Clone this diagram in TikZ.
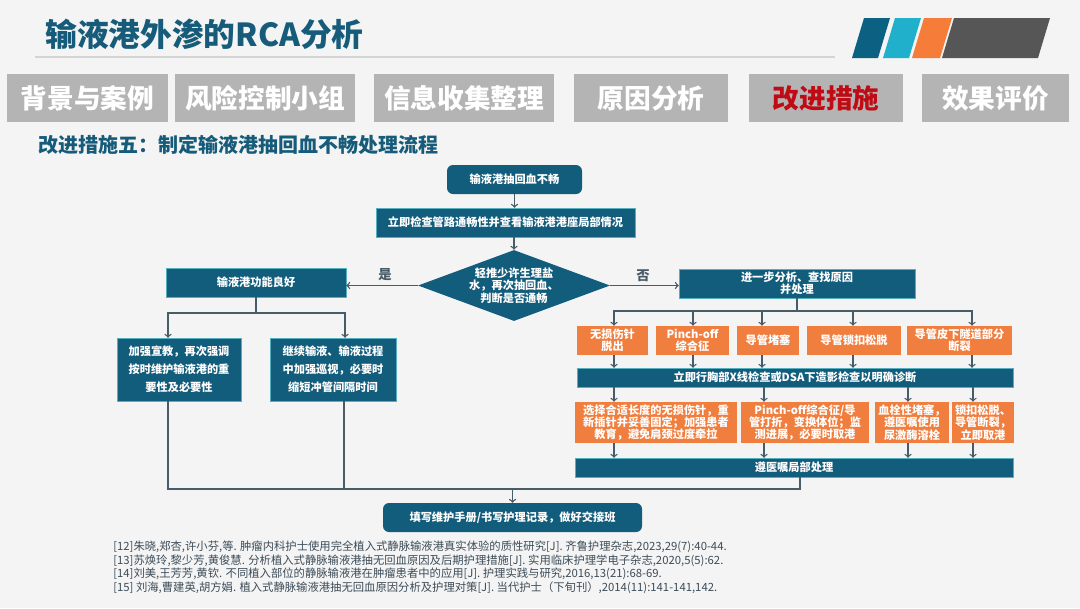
\documentclass[tikz,border=0pt]{standalone}
\usepackage{fontspec}
\setmainfont{Noto Sans CJK SC}
\usepackage{tikz}
\usetikzlibrary{shapes,arrows,positioning,calc}

\definecolor{bgpage}{RGB}{244,244,244}
\definecolor{flowblue}{RGB}{18,92,124}
\definecolor{headblue}{RGB}{22,92,122}
\definecolor{causeorange}{RGB}{240,126,62}
\definecolor{tabgray}{RGB}{180,180,180}
\definecolor{tabred}{RGB}{192,10,20}
\definecolor{wiregray}{RGB}{72,92,104}
\definecolor{refgray}{RGB}{60,76,88}
\definecolor{stripblue}{RGB}{12,96,130}
\definecolor{stripcyan}{RGB}{32,176,204}
\definecolor{striporange}{RGB}{246,124,58}
\definecolor{stripgray}{RGB}{86,86,86}
\definecolor{rulegray}{RGB}{212,212,212}

\newdimen\pxu \pxu=0.75pt
\newcommand{\flowfont}{\fontsize{8.4pt}{9.3pt}\selectfont\bfseries}
\newcommand{\loosefont}{\fontsize{8.4pt}{13.5pt}\selectfont\bfseries}
\newcommand{\tabfont}{\fontsize{20pt}{24pt}\selectfont\bfseries}
\newcommand{\reffont}{\fontsize{8.5pt}{10.1pt}\selectfont}

\tikzstyle{flow} = [rectangle, fill=flowblue, draw=flowblue!70!cyan!70, line width=0.3pt, text=white, align=center, inner sep=0pt, font=\flowfont]
\tikzstyle{startbox} = [flow, rounded corners=6\pxu, draw=none]
\tikzstyle{cause} = [rectangle, fill=causeorange, text=white, align=center, inner sep=0pt, font=\flowfont]
\tikzstyle{tab} = [rectangle, fill=tabgray, text=white, inner sep=0pt, minimum height=48\pxu, font=\tabfont]
\tikzstyle{arr} = [draw, ->, >=to, color=wiregray, line width=1pt]
\tikzstyle{wire} = [draw, color=wiregray, line width=1pt]
\tikzstyle{yesno} = [text=wiregray, font=\fontsize{10pt}{12pt}\selectfont\bfseries]

\begin{document}
\begin{tikzpicture}[x=0.75pt, y=-0.75pt]
    \fill[bgpage] (0,0) rectangle (1080,608);
    \useasboundingbox (0,0) rectangle (1080,608);

    % header
    \node[anchor=west, inner sep=0pt, text=headblue, font=\fontsize{23.8pt}{28pt}\selectfont\bfseries] (title) at (45,34) {输液港外渗的RCA分析};
    \draw[rulegray, line width=0.8pt] (35,57) -- (835,57);
    \fill[stripblue] (852,58) -- (864,18) -- (890,18) -- (878,58) -- cycle;
    \fill[stripcyan] (883,58) -- (895,18) -- (921,18) -- (909,58) -- cycle;
    \fill[striporange] (912,58) -- (924,18) -- (952,18) -- (940,58) -- cycle;
    \fill[stripgray] (942,58) -- (954,18) -- (1050,18) -- (1038,58) -- cycle;

    \node[tab, minimum width=161\pxu] (t1) at (87.5,98) {背景与案例};
    \node[tab, minimum width=180\pxu] (t2) at (265,98) {风险控制小组};
    \node[tab, minimum width=180\pxu] (t3) at (464,98) {信息收集整理};
    \node[tab, minimum width=154\pxu] (t4) at (651,98) {原因分析};
    \node[tab, minimum width=154\pxu, text=tabred] (t5) at (826,98) {改进措施};
    \node[tab, minimum width=147\pxu] (t6) at (995.5,98) {效果评价};

    \node[anchor=west, inner sep=0pt, text=headblue, font=\fontsize{15pt}{18pt}\selectfont\bfseries] (sub) at (38,145) {改进措施五：制定输液港抽回血不畅处理流程};

    % main line
    \node[startbox, minimum width=135\pxu, minimum height=29\pxu] (start) at (514.5,179.5) {输液港抽回血不畅};
    \node[flow, minimum width=259\pxu, minimum height=29\pxu] (chk) at (505.5,222.5) {立即检查管路通畅性并查看输液港港座局部情况};
    \node[diamond, aspect=2.7, fill=flowblue, text=white, align=center, inner sep=0pt, font=\flowfont, minimum width=192\pxu, minimum height=71\pxu] (dia) at (514,285.5) {轻推少许生理盐\\水，再次抽回血、\\判断是否通畅};

    \draw [arr] (start) -- (start |- chk.north);
    \draw [arr] (dia.north |- chk.south) -- (dia.north);

    % yes side
    \node[flow, minimum width=180\pxu, minimum height=29\pxu] (good) at (256,282.5) {输液港功能良好};
    \draw [arr] (dia.west) -- (dia.west -| good.east);
    \node[yesno] (yes) at (385,275) {是};
    \node[flow, font=\loosefont, minimum width=124\pxu, minimum height=63\pxu] (lb1) at (179,369.5) {加强宣教，再次强调\\按时维护输液港的重\\要性及必要性};
    \node[flow, font=\loosefont, minimum width=126\pxu, minimum height=63\pxu] (lb2) at (333,369.5) {继续输液、输液过程\\中加强巡视，必要时\\缩短冲管间隔时间};
    \coordinate (ltop) at (168,313);
    \coordinate (rtop) at (345,313);
    \draw [wire] (good.south) -- (good.south |- ltop);
    \draw [arr] (good.south |- ltop) -- (ltop) -- (ltop |- lb1.north);
    \draw [arr] (good.south |- ltop) -- (rtop) -- (rtop |- lb2.north);

    % no side
    \node[flow, minimum width=236\pxu, minimum height=29\pxu] (further) at (797,283.5) {进一步分析、查找原因\\并处理};
    \draw [arr] (dia.east) -- (dia.east -| further.west);
    \node[yesno] (no) at (643,276) {否};

    \node[cause, minimum width=71\pxu, minimum height=29\pxu] (o1) at (612.5,340.5) {无损伤针\\脱出};
    \node[cause, minimum width=73\pxu, minimum height=29\pxu] (o2) at (692.5,340.5) {Pinch-off\\综合征};
    \node[cause, minimum width=62\pxu, minimum height=29\pxu] (o3) at (768,340.5) {导管堵塞};
    \node[cause, minimum width=94\pxu, minimum height=29\pxu] (o4) at (854,340.5) {导管锁扣松脱};
    \node[cause, minimum width=105\pxu, minimum height=29\pxu] (o5) at (959.5,340.5) {导管皮下隧道部分\\断裂};

    \node[flow, minimum width=436\pxu, minimum height=19\pxu] (bar1) at (795,377.5) {立即行胸部X线检查或DSA下造影检查以明确诊断};

    \node[cause, minimum width=162\pxu, minimum height=41\pxu] (p1) at (656,422.5) {选择合适长度的无损伤针，重\\新插针并妥善固定；加强患者\\教育，避免肩颈过度牵拉};
    \node[cause, minimum width=128\pxu, minimum height=41\pxu] (p2) at (805,422.5) {Pinch-off综合征/导\\管打折，变换体位；监\\测进展，必要时取港};
    \node[cause, minimum width=74\pxu, minimum height=41\pxu] (p3) at (912,422.5) {血栓性堵塞，\\遵医嘱使用\\尿激酶溶栓};
    \node[cause, minimum width=62\pxu, minimum height=41\pxu] (p4) at (983,422.5) {锁扣松脱、\\导管断裂，\\立即取港};

    \node[flow, minimum width=438\pxu, minimum height=19\pxu] (bar2) at (794,467.5) {遵医嘱局部处理};

    \coordinate (c1) at (614,311);
    \coordinate (c2) at (693,311);
    \coordinate (c3) at (762,311);
    \coordinate (c4) at (853,311);
    \coordinate (c5) at (972,311);
    \draw [wire] (further.south) -- (further.south |- c1);
    \draw [arr] (further.south |- c1) -- (c1) -- (c1 |- o1.north);
    \draw [arr] (c2) -- (c2 |- o2.north);
    \draw [arr] (c3) -- (c3 |- o3.north);
    \draw [arr] (c4) -- (c4 |- o4.north);
    \draw [arr] (further.south |- c1) -- (c5) -- (c5 |- o5.north);
    \draw [arr] (c1 |- o1.south) -- (c1 |- bar1.north);
    \draw [arr] (c2 |- o2.south) -- (c2 |- bar1.north);
    \draw [arr] (c3 |- o3.south) -- (c3 |- bar1.north);
    \draw [arr] (c4 |- o4.south) -- (c4 |- bar1.north);
    \draw [arr] (c5 |- o5.south) -- (c5 |- bar1.north);

    \coordinate (d1) at (614,395);
    \coordinate (d2) at (764,395);
    \coordinate (d3) at (908,395);
    \coordinate (d4) at (973,395);
    \draw [arr] (d1 |- bar1.south) -- (d1 |- p1.north);
    \draw [arr] (d2 |- bar1.south) -- (d2 |- p2.north);
    \draw [arr] (d3 |- bar1.south) -- (d3 |- p3.north);
    \draw [arr] (d4 |- bar1.south) -- (d4 |- p4.north);
    \draw [arr] (d1 |- p1.south) -- (d1 |- bar2.north);
    \draw [arr] (d2 |- p2.south) -- (d2 |- bar2.north);
    \draw [arr] (d3 |- p3.south) -- (d3 |- bar2.north);
    \draw [arr] (d4 |- p4.south) -- (d4 |- bar2.north);

    % merge
    \node[startbox, minimum width=259\pxu, minimum height=29\pxu] (final) at (512.5,517.5) {填写维护手册/书写护理记录，做好交接班};
    \coordinate (lbot) at (168,489);
    \coordinate (rbot) at (344,489);
    \coordinate (bbot) at (800,489);
    \draw [wire] (lb1.south -| lbot) -- (lbot) -- (bbot) -- (bbot |- bar2.south);
    \draw [wire] (lb2.south -| rbot) -- (rbot);
    \draw [arr] (final.north |- lbot) -- (final.north);

    \node[anchor=north west, align=left, inner sep=0pt, text=refgray, font=\reffont] (refs) at (113,541) {[12]朱晓,郑杏,许小芬,等. 肿瘤内科护士使用完全植入式静脉输液港真实体验的质性研究[J]. 齐鲁护理杂志,2023,29(7):40-44.\\{}%
[13]苏焕玲,黎少芳,黄俊慧. 分析植入式静脉输液港抽无回血原因及后期护理措施[J]. 实用临床护理学电子杂志,2020,5(5):62.\\{}%
[14]刘美,王芳芳,黄钦. 不同植入部位的静脉输液港在肿瘤患者中的应用[J]. 护理实践与研究,2016,13(21):68-69.\\{}%
[15] 刘海,曹建英,胡方娟. 植入式静脉输液港抽无回血原因分析及护理对策[J]. 当代护士（下旬刊）,2014(11):141-141,142.};
\end{tikzpicture}
\end{document}
